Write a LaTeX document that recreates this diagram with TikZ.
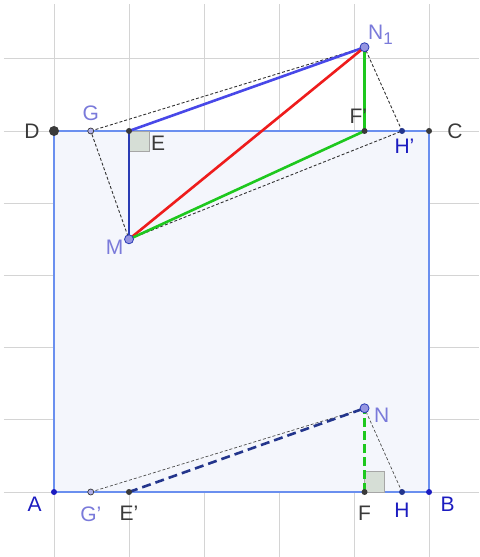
\documentclass[tikz,border=0pt]{standalone}
\usepackage{fontspec}
\setmainfont{Liberation Sans}
\usetikzlibrary{positioning,calc}
\definecolor{cgrid}{HTML}{D4D4D4}
\definecolor{csq}{HTML}{6A8FEF}
\definecolor{csqfill}{HTML}{F4F6FC}
\definecolor{cblue}{HTML}{4848E8}
\definecolor{cdblue}{HTML}{2A3CB4}
\definecolor{cdash}{HTML}{23358C}
\definecolor{cred}{HTML}{EE1C1C}
\definecolor{cgreen}{HTML}{1EC81E}
\definecolor{cang}{HTML}{D6DED6}
\definecolor{cpur}{HTML}{7A7ADA}
\definecolor{cdark}{HTML}{3A3A3A}
\definecolor{clab}{HTML}{1C1CC0}
\tikzset{
  grid line/.style={cgrid,line width=0.9pt},
  side/.style={csq,line width=2pt},
  seg/.style={line width=2.6pt},
  thin dash/.style={black!80,line width=0.9pt,dash pattern=on 3pt off 2pt},
  angmark/.style={fill=cang,draw=gray!70,line width=0.6pt},
  bigpt/.style={circle,fill=cpur!80,draw=cdblue,line width=0.8pt,inner sep=0pt,minimum size=9pt},
  smallpt/.style={circle,fill=#1,inner sep=0pt,minimum size=6pt},
  openpt/.style={circle,fill=cpur!60,draw=cdark,line width=0.7pt,inner sep=0pt,minimum size=6pt},
  lab/.style={font=\fontsize{21}{23}\selectfont,inner sep=0pt}
}
\newcommand{\subone}{\raisebox{-5pt}{\fontsize{17}{17}\selectfont 1}}

\begin{document}
\begin{tikzpicture}[x=75pt,y=72.2pt]
  \useasboundingbox (-0.72,-0.9) rectangle (5.667,6.814);
  % grid
  \foreach \i in {0,...,5}
    \draw[grid line] (\i,-0.9) -- (\i,6.76);
  \foreach \j in {0,...,6}
    \draw[grid line] (-0.667,\j) -- (5.667,\j);

  % points
  \coordinate (A) at (0,0);
  \coordinate (B) at (5,0);
  \coordinate (C) at (5,5);
  \coordinate (D) at (0,5);
  \coordinate (E) at (1,5);
  \coordinate (E') at (1,0);
  \coordinate (M) at (1,3.5);
  \coordinate (N) at (4.14,1.16);
  \coordinate (N1) at (4.14,6.16);
  \coordinate (F) at (4.14,0);
  \coordinate (F') at (4.14,5);
  \coordinate (G) at (0.49,5);
  \coordinate (G') at (0.49,0);
  \coordinate (H) at (4.64,0);
  \coordinate (H') at (4.64,5);

  % square ABCD
  \fill[csqfill] (A) rectangle (C);
  \draw[side] (A) -- (B) -- (C) -- (D) -- cycle;

  % right angles
  \draw[angmark] (E) rectangle ++(0.27,-0.28);
  \draw[angmark] (F) rectangle ++(0.27,0.28);

  % dashed helper lines
  \draw[thin dash] (G) -- (N1) -- (H') -- (M) -- cycle;
  \draw[thin dash,black!70,line width=0.7pt] (G') -- (N) -- (H);

  % segments
  \draw[seg,cblue] (E) -- (N1);
  \draw[seg,cdblue] (E) -- (M);
  \draw[seg,cred] (M) -- (N1);
  \draw[seg,cgreen] (M) -- (F') -- (N1);
  \draw[seg,cdash,dash pattern=on 9pt off 5pt] (E') -- (N);
  \draw[seg,cgreen,dash pattern=on 9pt off 4pt] (F) -- (N);

  % dots
  \node[circle,fill=cdark,inner sep=0pt,minimum size=10pt] (pD) at (D) {};
  \node[smallpt=cdark] (pC) at (C) {};
  \node[smallpt=clab] (pA) at (A) {};
  \node[smallpt=clab] (pB) at (B) {};
  \node[smallpt=cdark] (pE) at (E) {};
  \node[smallpt=cdark] (pEp) at (E') {};
  \node[smallpt=cdark] (pF) at (F) {};
  \node[smallpt=cdark] (pFp) at (F') {};
  \node[smallpt=cdash] (pH) at (H) {};
  \node[smallpt=cdash] (pHp) at (H') {};
  \node[openpt] (pG) at (G) {};
  \node[openpt] (pGp) at (G') {};
  \node[bigpt] (pM) at (M) {};
  \node[bigpt] (pN) at (N) {};
  \node[bigpt] (pN1) at (N1) {};

  % labels
  \node[lab,cdark,left=9pt of pD] (lD) {D};
  \node[lab,cdark,right=15pt of pC] (lC) {C};
  \node[lab,clab,below left=3pt and 10pt of pA] (lA) {A};
  \node[lab,clab,below right=3pt and 9pt of pB] (lB) {B};
  \node[lab,cpur,above=7pt of pG] (lG) {G};
  \node[lab,cdark,below right=5pt and 22pt of pE.center] (lE) {E};
  \node[lab,cpur,below left=-3pt and 2pt of pM] (lM) {M};
  \node[lab,cpur,above right=-1pt and 0pt of pN1] (lN1) {N\subone};
  \node[lab,cdark,above left=5pt and -5pt of pFp] (lFp) {F'};
  \node[lab,clab,below right=6pt and -10pt of pHp] (lHp) {H'};
  \node[lab,cpur,below=11pt of pGp] (lGp) {G'};
  \node[lab,cdark,below=11pt of pEp] (lEp) {E'};
  \node[lab,cdark,below=11pt of pF] (lF) {F};
  \node[lab,clab,below=8pt of pH] (lH) {H};
  \node[lab,cpur,below right=-4pt and 6pt of pN] (lN) {N};
\end{tikzpicture}
\end{document}
